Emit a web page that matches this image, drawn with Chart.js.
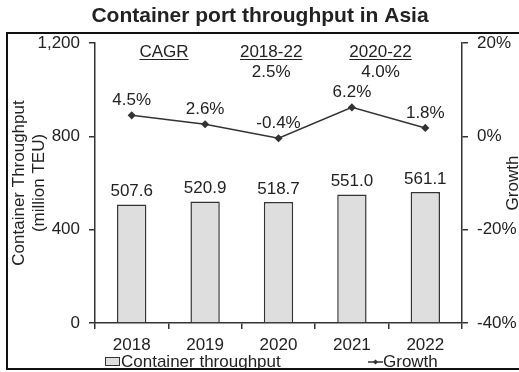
<!DOCTYPE html>
<html>
<head>
<meta charset="utf-8">
<script src="https://cdn.jsdelivr.net/npm/chart.js@4/dist/chart.umd.min.js"></script>
<style>
  html, body { margin: 0; padding: 0; background: #ffffff; }
  #wrap { width: 519px; height: 372px; position: relative; }
</style>
</head>
<body>
<div id="wrap"><canvas id="chart" width="519" height="372"></canvas></div>
<script>
// Asian container port throughput, 2018-2022
const years = ['2018', '2019', '2020', '2021', '2022'];
const throughput = [507.6, 520.9, 518.7, 551.0, 561.1];   // million TEU
const growth = [4.5, 2.6, -0.4, 6.2, 1.8];                 // % year on year
const cagrHeads = ['CAGR', '2018-22', '2020-22'];
const cagrValues = ['', '2.5%', '4.0%'];
const leftTicks = [0, 400, 800, 1200];
const rightTicks = [-40, -20, 0, 20];

const FONT = '"Liberation Sans", Arial, Helvetica, sans-serif';
const INK = '#222222';
const AXIS = '#333333';

// value labels, CAGR header, legend, frame and title drawn on the canvas
const decorations = {
  id: 'decorations',
  afterDatasetsDraw(chart) {
    const ctx = chart.ctx;
    const area = chart.chartArea;
    const x = chart.scales.x;
    ctx.save();
    ctx.fillStyle = INK;
    ctx.textAlign = 'center';
    ctx.textBaseline = 'middle';
    ctx.font = '17px ' + FONT;

    // bar values
    chart.getDatasetMeta(0).data.forEach((el, i) => {
      ctx.fillText(throughput[i].toFixed(1), el.x, el.y - 13);
    });
    // growth values
    chart.getDatasetMeta(1).data.forEach((el, i) => {
      ctx.fillText(growth[i].toFixed(1) + '%', el.x, el.y - 15);
    });

    // CAGR block
    const spots = [0.44, 1.9, 3.39];
    cagrHeads.forEach((h, i) => {
      const cx = x.getPixelForValue(spots[i]);
      const cy = area.top + 9;
      ctx.fillText(h, cx, cy);
      const w = ctx.measureText(h).width;
      ctx.strokeStyle = INK;
      ctx.lineWidth = 1;
      ctx.beginPath();
      ctx.moveTo(cx - w / 2, cy + 7.5);
      ctx.lineTo(cx + w / 2, cy + 7.5);
      ctx.stroke();
      if (cagrValues[i]) ctx.fillText(cagrValues[i], cx, area.top + 29);
    });

    // right axis title
    ctx.save();
    ctx.translate(513, (area.top + area.bottom) / 2);
    ctx.rotate(-Math.PI / 2);
    ctx.fillText('Growth', 0, 0);
    ctx.restore();

    // legend
    const ly = 362;
    ctx.textAlign = 'left';
    ctx.fillStyle = '#dedede';
    ctx.fillRect(105.5, 357.5, 14, 8);
    ctx.strokeStyle = AXIS;
    ctx.lineWidth = 1;
    ctx.strokeRect(105.5, 357.5, 14, 8);
    ctx.fillStyle = INK;
    ctx.fillText('Container throughput', 121, ly);
    ctx.strokeStyle = AXIS;
    ctx.lineWidth = 1.5;
    ctx.beginPath();
    ctx.moveTo(368, ly);
    ctx.lineTo(383, ly);
    ctx.stroke();
    ctx.beginPath();
    ctx.moveTo(375.5, ly - 2.5);
    ctx.lineTo(378, ly);
    ctx.lineTo(375.5, ly + 2.5);
    ctx.lineTo(373, ly);
    ctx.closePath();
    ctx.fillStyle = AXIS;
    ctx.fill();
    ctx.fillStyle = INK;
    ctx.fillText('Growth', 383, ly);

    // title
    ctx.textAlign = 'center';
    ctx.font = 'bold 21px ' + FONT;
    ctx.fillText('Container port throughput in Asia', 260, 16);

    // frame
    ctx.strokeStyle = '#111111';
    ctx.lineWidth = 2;
    ctx.strokeRect(7, 33, 530, 336);
    ctx.restore();
  }
};

new Chart(document.getElementById('chart'), {
  data: {
    labels: years,
    datasets: [
      {
        type: 'bar',
        label: 'Container throughput',
        data: throughput,
        yAxisID: 'y',
        backgroundColor: '#dedede',
        borderColor: AXIS,
        borderWidth: 1.5,
        barPercentage: 0.4,
        categoryPercentage: 1,
        order: 1
      },
      {
        type: 'line',
        label: 'Growth',
        data: growth,
        yAxisID: 'y1',
        borderColor: AXIS,
        borderWidth: 1.5,
        pointStyle: 'rectRot',
        pointRadius: 3,
        pointBackgroundColor: AXIS,
        pointBorderColor: AXIS,
        tension: 0,
        order: 0
      }
    ]
  },
  options: {
    responsive: false,
    animation: false,
    devicePixelRatio: 1,
    layout: { padding: { top: 43, left: 0, right: 0, bottom: 0 } },
    plugins: {
      legend: { display: false },
      title: { display: false },
      tooltip: { enabled: false }
    },
    scales: {
      x: {
        offset: true,
        grid: { display: true, drawOnChartArea: false, tickLength: 6, color: AXIS, lineWidth: 1.5, offset: true },
        border: { color: AXIS, width: 1.5 },
        ticks: { color: INK, font: { family: FONT, size: 17 }, padding: 6 },
        afterFit(s) { s.height = 49; }
      },
      y: {
        position: 'left',
        min: leftTicks[0],
        max: leftTicks[leftTicks.length - 1],
        afterBuildTicks(s) { s.ticks = leftTicks.map(v => ({ value: v })); },
        grid: { drawOnChartArea: false, tickLength: 6, color: AXIS, lineWidth: 1.5 },
        border: { color: AXIS, width: 1.5 },
        ticks: {
          color: INK, font: { family: FONT, size: 17 }, padding: 9,
          callback: v => v.toLocaleString('en-US')
        },
        title: {
          display: true,
          text: ['Container Throughput', '(million TEU)'],
          color: INK,
          font: { family: FONT, size: 17, lineHeight: 1.15 },
          padding: { top: 10, bottom: 0 }
        },
        afterFit(s) { s.width = 95; }
      },
      y1: {
        position: 'right',
        min: rightTicks[0],
        max: rightTicks[rightTicks.length - 1],
        afterBuildTicks(s) { s.ticks = rightTicks.map(v => ({ value: v })); },
        grid: { drawOnChartArea: false, tickLength: 6, color: AXIS, lineWidth: 1.5 },
        border: { color: AXIS, width: 1.5 },
        ticks: {
          color: INK, font: { family: FONT, size: 17 }, padding: 9,
          callback: v => v + '%'
        },
        afterFit(s) { s.width = 57; }
      }
    }
  },
  plugins: [decorations]
});
</script>
</body>
</html>
